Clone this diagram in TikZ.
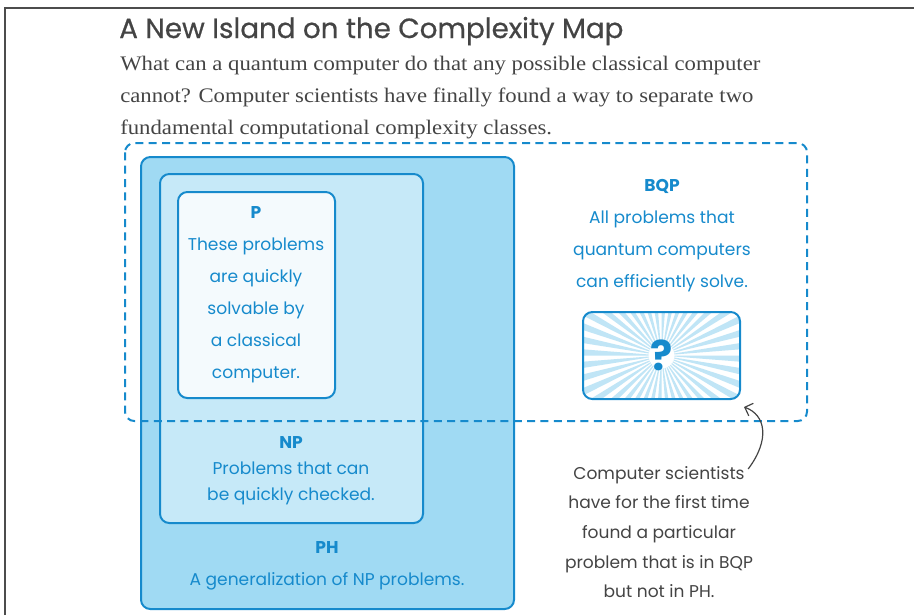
\documentclass[tikz,border=0pt]{standalone}
\usepackage{fontspec}
\newfontfamily\leadfont{Liberation Serif}[FakeStretch=1.1]
\newfontfamily\geo{Poppins}
\newfontfamily\geohead{Poppins}[FakeBold=0.6]
\usetikzlibrary{arrows.meta}
\definecolor{qblue}{RGB}{22,138,204}
\definecolor{phfill}{RGB}{160,218,243}
\definecolor{npfill}{RGB}{198,233,248}
\definecolor{pfill}{RGB}{244,250,253}
\definecolor{rayfill}{RGB}{192,229,246}
\definecolor{inkgray}{RGB}{68,68,68}
\tikzset{
  setbox/.style={draw=qblue, line width=1.5pt, rounded corners=7pt},
  label/.style={text=qblue, align=center, inner sep=0pt},
}
\begin{document}
\begin{tikzpicture}[x=.75pt, y=-.75pt, every node/.style={font=\geo\fontsize{12.8}{24}\selectfont}]
  \useasboundingbox (0,0) rectangle (914,615);
  \draw[gray!60!black, line width=1pt] (5,615) -- (5,8) -- (914,8);
  \node[anchor=base west, inner sep=0pt, text=inkgray, font=\geohead\fontsize{20.8}{24}\selectfont] (title) at (119,38) {A New Island on the Complexity Map};
  \node[anchor=base west, inner sep=0pt, align=left, text=inkgray, font=\leadfont\fontsize{15.5}{24}\selectfont] (lead) at (120,134)
    {What can a quantum computer do that any possible classical computer\\
     cannot? Computer scientists have finally found a way to separate two\\
     fundamental computational complexity classes.};
  \fill[phfill, setbox] (141,157) rectangle (514,609);
  \fill[npfill, setbox] (160,174) rectangle (423,523);
  \fill[pfill, setbox] (178,192) rectangle (335,398);
  \node[label] (p) at (256,295) {\textbf{P}\\These problems\\are quickly\\solvable by\\a classical\\computer.};
  \node[label, font=\geo\fontsize{12.8}{19.5}\selectfont] (np) at (291,471) {\textbf{NP}\\Problems that can\\be quickly checked.};
  \node[label] (ph) at (327,566) {\textbf{PH}\\A generalization of NP problems.};
  \node[label] (bqp) at (662,236) {\textbf{BQP}\\All problems that\\quantum computers\\can efficiently solve.};
  \coordinate (q) at (661.5,355.5);
  \begin{scope}
    \clip[rounded corners=7pt] (583,312) rectangle (740,399);
    \fill[white] (583,312) rectangle (740,399);
    \foreach \a in {0,9,...,351}
      \fill[rayfill] (q) -- ([shift={(\a:150)}]q) -- ([shift={(\a+4.5:150)}]q) -- cycle;
    \fill[white] (q) circle (13);
  \end{scope}
  \node[setbox, minimum width=117.75pt, minimum height=65.25pt, text=qblue, font=\geo\bfseries\fontsize{31}{32}\selectfont] (qbox) at (q) {?};
  \draw[qblue, line width=1.5pt, dash pattern=on 6pt off 4pt, rounded corners=7pt] (125,143) rectangle (807,421);
  \node[align=center, inner sep=0pt, text=inkgray, font=\geo\fontsize{12.8}{22.2}\selectfont] (note) at (659,532)
    {Computer scientists\\have for the first time\\found a particular\\problem that is in BQP\\but not in PH.};
  \draw[inkgray, line width=.9pt, -{Straight Barb[length=5pt]}] ([shift={(-5,3)}]note.north east) .. controls (770,440) and (766,415) .. ([shift={(3,7)}]qbox.south east);
\end{tikzpicture}
\end{document}
